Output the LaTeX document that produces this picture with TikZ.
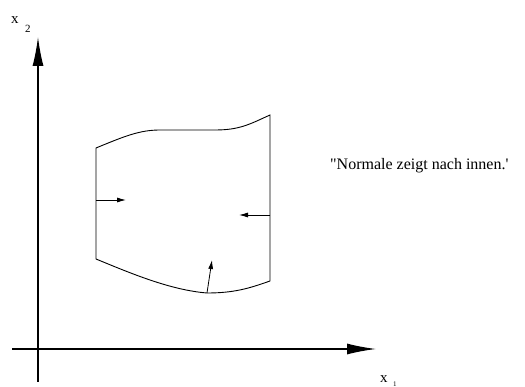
\documentclass[tikz,border=0pt]{standalone}
\usepackage{fontspec}
\setmainfont{Liberation Serif}
\newfontfamily\plainserif{Liberation Serif}
\usetikzlibrary{arrows.meta}
\begin{document}
\begin{tikzpicture}[x=1pt,y=-1pt,
  axis/.style={line width=1.3pt,-{Latex[length=29pt,width=11pt]}},
  normal/.style={line width=0.8pt,-{Latex[length=9pt,width=5pt]}},
  border/.style={line width=0.9pt},
  lbl/.style={inner sep=0pt,font=\fontsize{15}{18}\selectfont}]
\useasboundingbox (0,0) rectangle (525,387);
% axes
\coordinate (yb) at (38,382);
\coordinate (yt) at (38,37);
\coordinate (xb) at (12,349);
\coordinate (xt) at (376,349);
\draw[axis] (yb) -- (yt);
\draw[axis] (xb) -- (xt);
\node[lbl,anchor=base west] (x2) at (11,24) {x};
\node[lbl,anchor=base west,font=\fontsize{11}{13}\selectfont] (x2s) at (25,33) {2};
\node[lbl,anchor=base west] (x1) at (380,382) {x};
\node[lbl,anchor=base west,font=\fontsize{7}{8}\selectfont] (x1s) at (393,386) {1};
% region
\coordinate (A) at (96,148);
\coordinate (B) at (270,115);
\coordinate (C) at (270,281);
\coordinate (D) at (96,259);
\coordinate (M) at (207,293);
\draw[border] (D) -- (A)
  .. controls (125,136) and (140,130) .. (160,130)
  -- (215,130)
  .. controls (240,130) and (250,124) .. (B)
  -- (C)
  .. controls (250,288) and (235,293) .. (M)
  .. controls (170,290) and (130,273) .. (D) -- cycle;
% normals
\coordinate (L1) at (96,200);
\coordinate (L2) at (126,200);
\coordinate (R1) at (270,215);
\coordinate (R2) at (239,215);
\coordinate (B2) at (212,260);
\draw[normal] (L1) -- (L2);
\draw[normal] (R1) -- (R2);
\draw[normal] (M) -- (B2);
% text
\node[lbl,anchor=base west,font=\plainserif\fontsize{16}{19}\selectfont] (t) at (330,170) {"Normale zeigt nach innen.'};
\end{tikzpicture}
\end{document}
